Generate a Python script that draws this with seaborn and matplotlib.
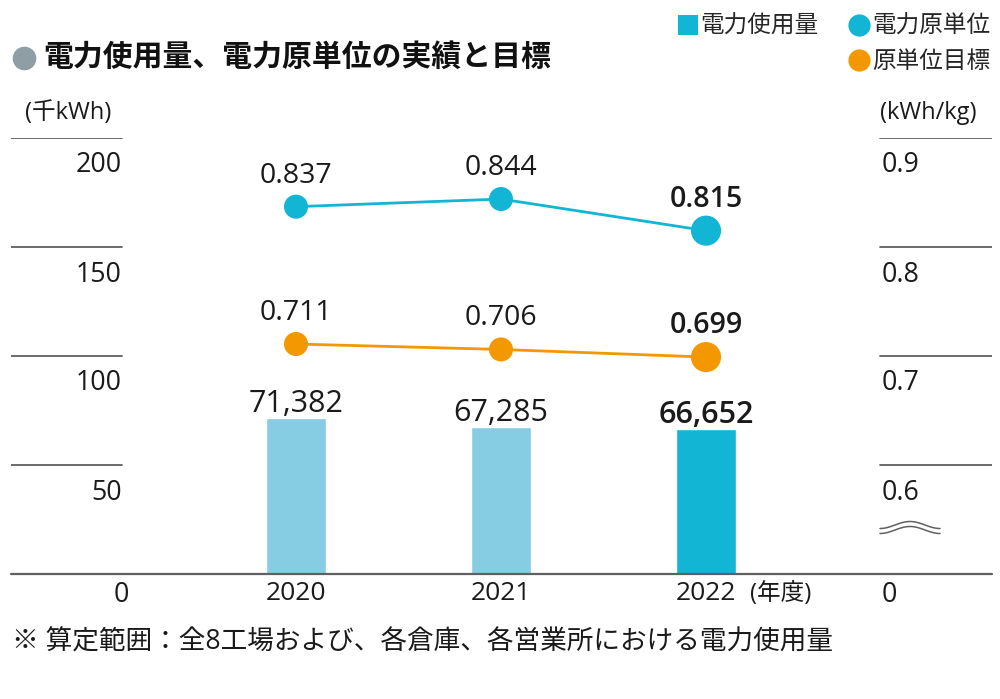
import numpy as np
import pandas as pd
import matplotlib
matplotlib.use("Agg")
import matplotlib.pyplot as plt
import seaborn as sns
from matplotlib.transforms import ScaledTranslation
from matplotlib.lines import Line2D

# ---------------- data ----------------
years = ["2020", "2021", "2022"]
usage = [71382, 67285, 66652]            # 電力使用量 (label values)
unit_actual = [0.837, 0.844, 0.815]      # 電力原単位
unit_target = [0.711, 0.706, 0.699]      # 原単位目標
left_ticks = [0, 50, 100, 150, 200]
left_tick_labels = ["0", "50", "100", "150", "200"]
right_ticks = [0.5, 0.6, 0.7, 0.8, 0.9]
right_tick_labels = ["0", "0.6", "0.7", "0.8", "0.9"]
latest = ["past", "past", "latest"]

title = "電力使用量、電力原単位の実績と目標"
footnote = "※ 算定範囲：全8工場および、各倉庫、各営業所における電力使用量"
legend_labels = ["電力使用量", "電力原単位", "原単位目標"]

# ---------------- style ----------------
sns.set_theme(style="white")
plt.rcParams["font.family"] = ["Open Sans", "Noto Sans CJK JP", "DejaVu Sans"]

C_LIGHT = "#86CDE3"
C_CYAN = "#13B5D5"
C_ORANGE = "#F39800"
C_GRAY = "#8F9DA4"
C_LINE = "#606060"
C_TEXT = "#1a1a1a"

PT = 0.72  # points per pixel at dpi 100

W, H = 1000, 699
fig = plt.figure(figsize=(W / 100, H / 100), dpi=100)
AX_L, AX_R, AX_T, AX_B = 11, 992, 138, 574
ax = fig.add_axes([AX_L / W, 1 - AX_B / H, (AX_R - AX_L) / W, (AX_B - AX_T) / H])

bdf = pd.DataFrame({"year": years, "usage": np.array(usage) / 1000.0})
sns.barplot(data=bdf, x="year", y="usage", hue="year",
            palette=[C_LIGHT, C_LIGHT, C_CYAN], saturation=1,
            width=0.293, legend=False, ax=ax, zorder=2)

ax2 = ax.twinx()
pos = np.arange(len(years))
ldf = pd.DataFrame({"pos": pos, "actual": unit_actual, "target": unit_target,
                    "latest": latest})
for col, c in (("actual", C_CYAN), ("target", C_ORANGE)):
    sns.lineplot(data=ldf, x="pos", y=col, color=c, lw=2, ax=ax2, zorder=3)
    sns.scatterplot(data=ldf, x="pos", y=col, size="latest",
                    sizes={"past": 300, "latest": 470}, color=c,
                    linewidth=0, legend=False, ax=ax2, zorder=4)

# limits
span = (AX_R - AX_L) / 205.0
xmin = -(296 - AX_L) / 205.0
ax.set_xlim(xmin, xmin + span)
ax.set_ylim(0, 200)
ax2.set_ylim(0.5, 0.9)
ax2.set_xlim(xmin, xmin + span)

for a in (ax, ax2):
    for s in a.spines.values():
        s.set_visible(False)
    a.set_xlabel("")
    a.set_ylabel("")
    a.grid(False)

# short gridline segments + baseline
gl = (122 - AX_L) / (AX_R - AX_L)
gr = (880 - AX_L) / (AX_R - AX_L)
for y in left_ticks[1:]:
    ax.axhline(y, xmin=0, xmax=gl, color=C_LINE, lw=1.3, zorder=1)
    ax.axhline(y, xmin=gr, xmax=1, color=C_LINE, lw=1.3, zorder=1)
ax.axhline(0, color=C_LINE, lw=1.6, zorder=3, clip_on=False)

# ticks
TICK_FS = 19.3
ax.set_yticks(left_ticks)
ax.set_yticklabels(left_tick_labels)
ax.tick_params(axis="y", length=0, pad=-(122 - AX_L) * PT, labelsize=TICK_FS, colors=C_TEXT)
ax2.set_yticks(right_ticks)
ax2.set_yticklabels(right_tick_labels)
ax2.tick_params(axis="y", length=0, pad=-(AX_R - 882) * PT, labelsize=TICK_FS, colors=C_TEXT)
ax.tick_params(axis="x", length=0, pad=5, labelsize=19, colors=C_TEXT)
ax2.tick_params(axis="x", length=0, labelbottom=False)

for lab in ax.get_yticklabels():
    if lab.get_text() == "0":
        off = ScaledTranslation(0.07, -0.17, fig.dpi_scale_trans)
    else:
        off = ScaledTranslation(0, -0.24, fig.dpi_scale_trans)
    lab.set_transform(lab.get_transform() + off)
for lab in ax2.get_yticklabels():
    dy = -0.17 if lab.get_text() == "0" else -0.24
    lab.set_transform(lab.get_transform() + ScaledTranslation(0, dy, fig.dpi_scale_trans))

ax.annotate("(年度)", xy=(2, 0), xytext=(44, -8), textcoords="offset pixels",
            ha="left", va="top", fontsize=17, color=C_TEXT)

# value labels
for i, v in enumerate(usage):
    ax.annotate(f"{v:,}", xy=(i, v / 1000.0), xytext=(0, 6), textcoords="offset pixels",
                ha="center", va="baseline", fontsize=22, color=C_TEXT,
                fontweight="semibold" if i == len(usage) - 1 else "normal")
for vals in (unit_actual, unit_target):
    for i, v in enumerate(vals):
        ax2.annotate(f"{v:.3f}", xy=(i, v), xytext=(0, 24), textcoords="offset pixels",
                     ha="center", va="baseline", fontsize=20.5, color=C_TEXT,
                     fontweight="semibold" if i == len(vals) - 1 else "normal")

# unit labels
fig.text(25 / W, 1 - 113 / H, "(千kWh)", ha="left", va="center", fontsize=17, color=C_TEXT)
fig.text(880 / W, 1 - 113 / H, "(kWh/kg)", ha="left", va="center", fontsize=17, color=C_TEXT)

# axis break symbol on the right axis
t = np.linspace(0, 1, 60)
xs = 880 + 60 * t
for c in (525, 530):
    ys = c + 3.5 * np.cos(2 * np.pi * t)
    fig.add_artist(Line2D(xs / W, 1 - ys / H, transform=fig.transFigure, color=C_LINE, lw=1.1))

# title
fig.add_artist(Line2D([23.5 / W], [1 - 58 / H], transform=fig.transFigure, marker="o",
                      ms=17, color=C_GRAY, mew=0, ls=""))
fig.text(43 / W, 1 - 58 / H, title, ha="left", va="center", fontsize=21.5,
         fontweight="bold", color="#111111")

# legend
handles = [
    Line2D([], [], ls="", marker="s", ms=15, color=C_CYAN, mew=0),
    Line2D([], [], ls="", marker=""),
    Line2D([], [], ls="", marker="o", ms=16, color=C_CYAN, mew=0),
    Line2D([], [], ls="", marker="o", ms=16, color=C_ORANGE, mew=0),
]
labels = [legend_labels[0], "", legend_labels[1], legend_labels[2]]
fig.legend(handles, labels, ncol=2, loc="upper right", bbox_to_anchor=(990 / W, 1 - 15 / H),
           frameon=False, fontsize=17, handlelength=0.9, handletextpad=0.1,
           columnspacing=1.25, labelspacing=0.48, borderaxespad=0, borderpad=0)

# footnote
fig.text(12 / W, 1 - 643 / H, footnote, ha="left", va="center", fontsize=19.2, color=C_TEXT)

fig.savefig("out.png", dpi=100)
